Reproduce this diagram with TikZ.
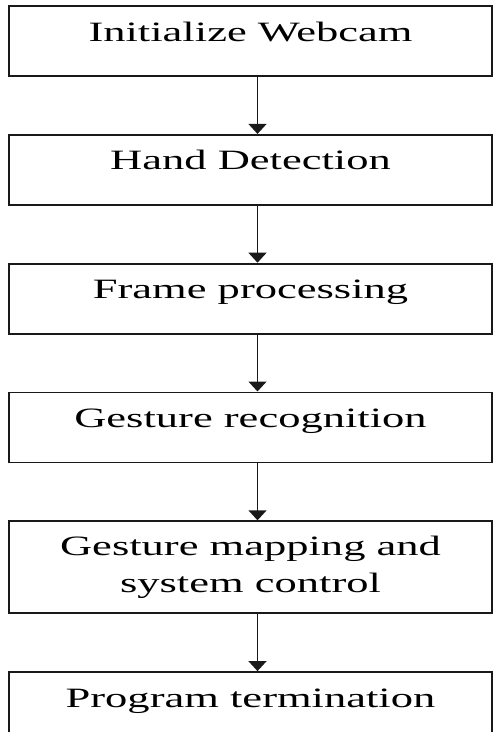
\documentclass[tikz,border=0pt]{standalone}
\usepackage{fontspec}
\setmainfont{Liberation Serif}[FakeStretch=1.59]
\usepackage{tikz}
\usetikzlibrary{positioning, arrows.meta}
\definecolor{fcline}{RGB}{25, 25, 25}
\tikzset{
    boxbase/.style={rectangle, draw=fcline, line width=1.8pt, minimum width=483pt, inner sep=0pt, font=\fontsize{28}{37}\selectfont},
    stepbox/.style={boxbase, minimum height=70pt, text height=20pt, text depth=20pt},
    tallbox/.style={boxbase, minimum height=92pt, align=center},
    flow/.style={-{Triangle[length=10pt, width=18pt]}, line width=1.4pt, draw=fcline}
}

\begin{document}
\begin{tikzpicture}[x=1pt, y=1pt, node distance=57pt]
    \useasboundingbox (0,0) rectangle (494,-732);
    \clip (0,0) rectangle (494,-732);

    \node[stepbox] (webcam) at (250.5,-41) {Initialize Webcam};
    \node[stepbox, below=of webcam] (hand) {Hand Detection};
    \node[stepbox, below=of hand] (frame) {Frame processing};
    \node[stepbox, below=of frame] (recog) {Gesture recognition};
    \node[tallbox, below=of recog] (mapping) {Gesture mapping and\\system control};
    \node[stepbox, below=of mapping] (term) {Program termination};

    % arrows run a little right of the box centres
    \foreach \a/\b in {webcam/hand, hand/frame, frame/recog, recog/mapping, mapping/term}
        \draw[flow] ([xshift=7pt]\a.south) -- ([xshift=7pt]\b.north);
\end{tikzpicture}
\end{document}
